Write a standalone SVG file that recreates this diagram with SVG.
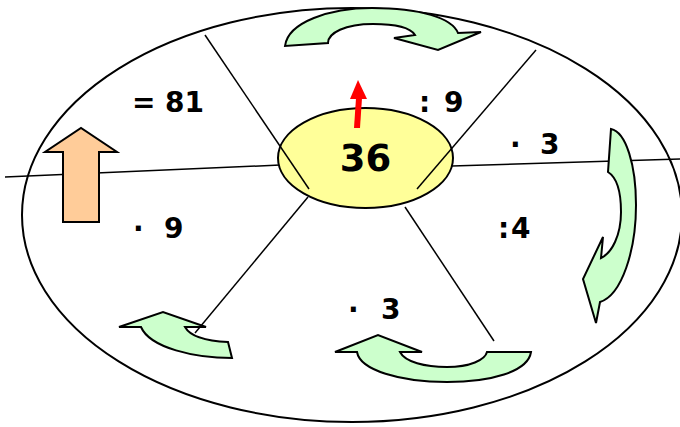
<svg xmlns="http://www.w3.org/2000/svg" width="680" height="427" viewBox="0 0 680 427">
<style>
.ln{stroke:#000;stroke-width:1.5;fill:none}
.grn{fill:#CCFFCC;stroke:#000;stroke-width:2;stroke-linejoin:miter}
.lbl{font-family:"DejaVu Sans",sans-serif;font-weight:bold;font-size:28px;fill:#000}
</style>
<rect width="680" height="427" fill="#fff"/>
<g id="outer">
<ellipse cx="352" cy="215" rx="330" ry="207" fill="none" stroke="#000" stroke-width="2"/>
</g>
<g id="connectors">
<line class="ln" x1="5" y1="177" x2="280" y2="165"/>
<line class="ln" x1="452" y1="166" x2="680" y2="159"/>
</g>
<g id="center">
<ellipse cx="365.5" cy="158" rx="87.5" ry="50" fill="#FFFF99" stroke="#000" stroke-width="2"/>
<text class="lbl" x="365.5" y="171" text-anchor="middle" style="font-size:37px">36</text>
</g>
<g id="spokes">
<line class="ln" x1="205" y1="35" x2="309" y2="189"/>
<line class="ln" x1="536" y1="50" x2="417" y2="189"/>
<line class="ln" x1="308" y1="197" x2="195" y2="333"/>
<line class="ln" x1="405" y1="207" x2="494" y2="341"/>
</g>
<g id="red-arrow">
<polygon points="354,128 360,128 362,98 356,98" fill="#FF0000"/>
<polygon points="350,99 358,80 367,99" fill="#FF0000"/>
</g>
<g id="orange-arrow">
<polygon points="63,222 99,222 99,152 117,152 81,128 45,152 63,152" fill="#FFCC99" stroke="#000" stroke-width="2"/>
</g>
<g id="arrow-top">
<path class="grn" d="M285,46 C288,22 330,8 372,8 C420,8 452,18 458,33 L481,32 L438,50 L394,38 L415,35 C410,27 395,24 373,24 C345,24 328,33 328,43 Z"/>
</g>
<g id="arrow-right">
<path class="grn" d="M611,129 C626,132 636,165 636,205 C636,250 622,295 600,302 L596,323 L583,279 L603,237 L601,258 C612,253 621,235 621,212 C621,190 616,177 608,172 Z"/>
</g>
<g id="arrow-bottom">
<path class="grn" d="M335,352 L378,335 L422,352 L400,352 C405,362 425,367 447,367 C470,367 485,360 487,352 L531,352 C528,372 490,382 447,382 C400,382 360,370 357,352 Z"/>
</g>
<g id="arrow-bottom-left">
<path class="grn" d="M119,327 L163,312 L206,327 L185,327 C190,336 205,341 228,342 L232,358 C195,358 150,348 141,327 Z"/>
</g>
<g id="labels">
<text class="lbl" y="112"><tspan x="132">=</tspan><tspan x="165">81</tspan></text>
<text class="lbl" y="112"><tspan x="419">:</tspan><tspan x="444">9</tspan></text>
<text class="lbl" y="154"><tspan x="510">·</tspan><tspan x="540">3</tspan></text>
<text class="lbl" y="238"><tspan x="498">:</tspan><tspan x="511">4</tspan></text>
<text class="lbl" y="238"><tspan x="133">·</tspan><tspan x="164">9</tspan></text>
<text class="lbl" y="319"><tspan x="348">·</tspan><tspan x="381">3</tspan></text>
</g>
</svg>
